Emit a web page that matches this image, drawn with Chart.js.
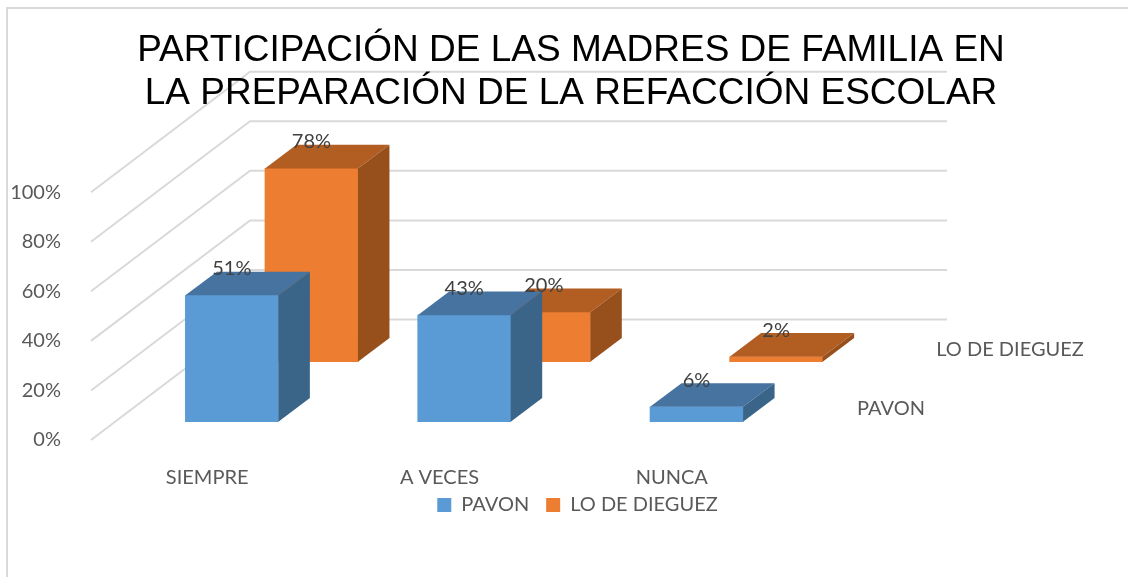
<!DOCTYPE html>
<html><head><meta charset="utf-8">
<style>html,body{margin:0;padding:0;background:#fff}canvas{display:block}</style>
<script src="https://cdn.jsdelivr.net/npm/chart.js@4"></script>
</head><body><canvas id="c" width="1128" height="577"></canvas>
<script>
const titleLines = ["PARTICIPACIÓN DE LAS MADRES DE FAMILIA EN", "LA PREPARACIÓN DE LA REFACCIÓN ESCOLAR"];
const categories = ["SIEMPRE", "A VECES", "NUNCA"];
const pavon = [51, 43, 6];
const loDeDieguez = [78, 20, 2];
const seriesNames = ["PAVON", "LO DE DIEGUEZ"];

const FONT = "Lato";
const GREY = "#595959";
const faces = [
  {front:"#5B9BD5", top:"#4673A0", side:"#3A6488", shift:[24.7,-18.3], nameAt:[891,409]},
  {front:"#ED7D31", top:"#B25D22", side:"#974F1B", shift:[104.3,-78.3], nameAt:[1010,350]}
];
const DEPTH = [31.5,-23.7];
const WALL = [159,-120.5], WALL_END = 947;

const threeD = {
  id:"threeD",
  beforeLayout(){},
  afterLayout(chart){
    chart.titleBlock.left = 14; chart.titleBlock.right = 1128;
    chart.legend.left = 0; chart.legend.right = 1155; chart.legend.top = 478;
  },
  beforeDraw(chart){
    const c = chart.ctx, y = chart.scales.y;
    c.save();
    c.strokeStyle = "#D9D9D9"; c.lineWidth = 2;
    c.beginPath(); c.moveTo(7,577); c.lineTo(7,8); c.lineTo(1128,8); c.stroke();
    y.ticks.forEach(t => {
      const py = y.getPixelForValue(t.value), x0 = chart.chartArea.left;
      c.beginPath(); c.moveTo(x0,py); c.lineTo(x0+WALL[0],py+WALL[1]); c.lineTo(WALL_END,py+WALL[1]); c.stroke();
    });
    c.restore();
  },
  beforeDatasetDraw(chart,args){
    const f = faces[args.index], c = chart.ctx;
    c.save(); c.translate(f.shift[0],f.shift[1]);
  },
  afterDatasetDraw(chart,args){
    const f = faces[args.index], c = chart.ctx;
    const [dx,dy] = DEPTH;
    args.meta.data.forEach(b => {
      const l = b.x-b.width/2, r = b.x+b.width/2, t = b.y, bo = b.base;
      c.fillStyle = f.top;
      c.beginPath(); c.moveTo(l,t); c.lineTo(l+dx,t+dy); c.lineTo(r+dx,t+dy); c.lineTo(r,t); c.closePath(); c.fill();
      c.fillStyle = f.side;
      c.beginPath(); c.moveTo(r,t); c.lineTo(r+dx,t+dy); c.lineTo(r+dx,bo+dy); c.lineTo(r,bo); c.closePath(); c.fill();
    });
    c.restore();
  },
  afterDatasetsDraw(chart){
    const c = chart.ctx;
    c.save();
    c.textAlign = "center"; c.textBaseline = "middle";
    c.font = "20px "+FONT;
    chart.data.datasets.forEach((ds,i) => {
      const f = faces[i];
      c.fillStyle = "#404040";
      chart.getDatasetMeta(i).data.forEach((b,j) => {
        c.fillText(ds.data[j]+"%", b.x+f.shift[0], b.y+f.shift[1]-26.5);
      });
      c.fillStyle = GREY;
      c.fillText(ds.label, f.nameAt[0], f.nameAt[1]);
    });
    c.restore();
  }
};

new Chart(document.getElementById("c"),{
  type:"bar",
  data:{labels:categories,datasets:[
    {label:seriesNames[0],data:pavon,backgroundColor:faces[0].front,borderWidth:0,barThickness:93,grouped:false,clip:false},
    {label:seriesNames[1],data:loDeDieguez,backgroundColor:faces[1].front,borderWidth:0,barThickness:93,grouped:false,clip:false}
  ]},
  options:{
    responsive:false,animation:false,
    layout:{padding:{left:0,right:340,top:0,bottom:40}},
    scales:{
      x:{grid:{display:false},border:{display:false},
         ticks:{color:GREY,font:{family:FONT,size:20},padding:18,maxRotation:0},
         afterFit(s){s.height=50;}},
      y:{min:0,max:100,grid:{display:false},border:{display:false},
         ticks:{stepSize:20,color:GREY,font:{family:FONT,size:20},padding:22,callback:v=>v+"%"},
         afterFit(s){s.width=91;}}
    },
    plugins:{
      title:{display:true,text:titleLines,color:"#000",font:{family:"Liberation Sans",size:37,weight:"normal",lineHeight:1.165},padding:{top:29,bottom:77}},
      legend:{position:"bottom",labels:{color:GREY,boxWidth:14,boxHeight:14,padding:17,font:{family:FONT,size:20}}},
      tooltip:{enabled:false}
    }
  },
  plugins:[threeD]
});
</script></body></html>
